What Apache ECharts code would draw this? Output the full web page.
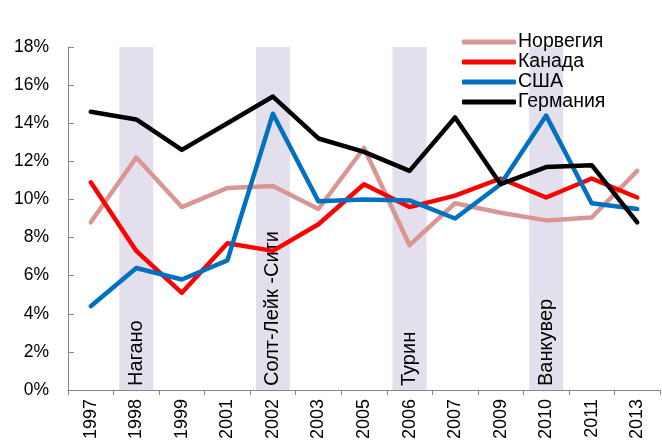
<!DOCTYPE html>
<html>
<head>
<meta charset="utf-8">
<script src="https://cdn.jsdelivr.net/npm/echarts@6/dist/echarts.min.js"></script>
<style>
  html, body { margin: 0; padding: 0; background: #fff; }
  #main { width: 662px; height: 445px; }
</style>
</head>
<body>
<div id="main"></div>
<script>
// годы (категории оси X)
const years = ['1997', '1998', '1999', '2001', '2002', '2003', '2005', '2006', '2007', '2009', '2010', '2011', '2013'];

// доли, %
const norway  = [8.8, 12.2, 9.6, 10.6, 10.7, 9.5, 12.7, 7.6, 9.8, 9.3, 8.9, 9.05, 11.5];
const canada  = [10.9, 7.3, 5.1, 7.7, 7.3, 8.7, 10.8, 9.6, 10.2, 11.1, 10.1, 11.1, 10.1];
const usa     = [4.4, 6.4, 5.8, 6.8, 14.5, 9.9, 10.0, 9.95, 9.0, 10.8, 14.4, 9.8, 9.5];
const germany = [14.6, 14.2, 12.6, 14.0, 15.4, 13.2, 12.5, 11.5, 14.3, 10.8, 11.7, 11.8, 8.8];

// олимпиады (фоновые полосы)
const olympicYears = ['1998', '2002', '2006', '2010'];
const olympicCities = ['Нагано', 'Солт-Лейк -Сити', 'Турин', 'Ванкувер'];

const font = 'Liberation Sans, Arial, sans-serif';

const bandData = years.map(y => {
    const i = olympicYears.indexOf(y);
    if (i < 0) return '-';
    return { value: 18, city: olympicCities[i] };
});

const lineSeries = [
    { name: 'Норвегия', data: norway, color: '#d99694' },
    { name: 'Канада', data: canada, color: '#ff0000' },
    { name: 'США', data: usa, color: '#0070c0' },
    { name: 'Германия', data: germany, color: '#000000' }
].map(s => ({
    name: s.name,
    type: 'line',
    data: s.data,
    symbol: 'none',
    z: 3,
    itemStyle: { color: s.color },
    lineStyle: { color: s.color, width: 4.5, cap: 'round', join: 'round' }
}));

const myChart = echarts.init(document.getElementById('main'), null, { renderer: 'canvas' });

const option = {
    animation: false,
    backgroundColor: '#fff',
    textStyle: { fontFamily: font },
    grid: { left: 68, right: 2, top: 47, bottom: 55 },
    legend: {
        data: ['Норвегия', 'Канада', 'США', 'Германия'],
        orient: 'vertical',
        left: 457,
        top: 27,
        itemWidth: 54,
        itemHeight: 5,
        itemGap: 0,
        icon: 'roundRect',
        textStyle: { fontSize: 19.5, color: '#000', fontFamily: font, lineHeight: 19, padding: [0, 0, 0, -3] }
    },
    xAxis: {
        type: 'category',
        data: years,
        boundaryGap: true,
        axisLine: { lineStyle: { color: '#868686', width: 1 } },
        axisTick: { show: true, length: 5, lineStyle: { color: '#868686' } },
        axisLabel: { rotate: 90, fontSize: 18, color: '#000', margin: 9, fontFamily: font, interval: 0 }
    },
    yAxis: {
        type: 'value',
        min: 0,
        max: 18,
        interval: 2,
        axisLine: { show: true, lineStyle: { color: '#868686', width: 1 } },
        axisTick: { show: true, inside: true, length: 6, lineStyle: { color: '#868686' } },
        splitLine: { show: false },
        axisLabel: { formatter: '{value}%', fontSize: 17.5, color: '#000', margin: 19, fontFamily: font }
    },
    series: [
        {
            name: 'Олимпиады',
            type: 'bar',
            data: bandData,
            barWidth: 34,
            z: 1,
            itemStyle: { color: '#e4dfec' },
            label: {
                show: true,
                position: 'insideBottom',
                rotate: 90,
                align: 'left',
                verticalAlign: 'middle',
                distance: 4,
                fontSize: 20,
                color: '#000',
                fontFamily: font,
                formatter: p => p.data.city
            }
        },
        ...lineSeries
    ]
};

myChart.setOption(option);
</script>
</body>
</html>
